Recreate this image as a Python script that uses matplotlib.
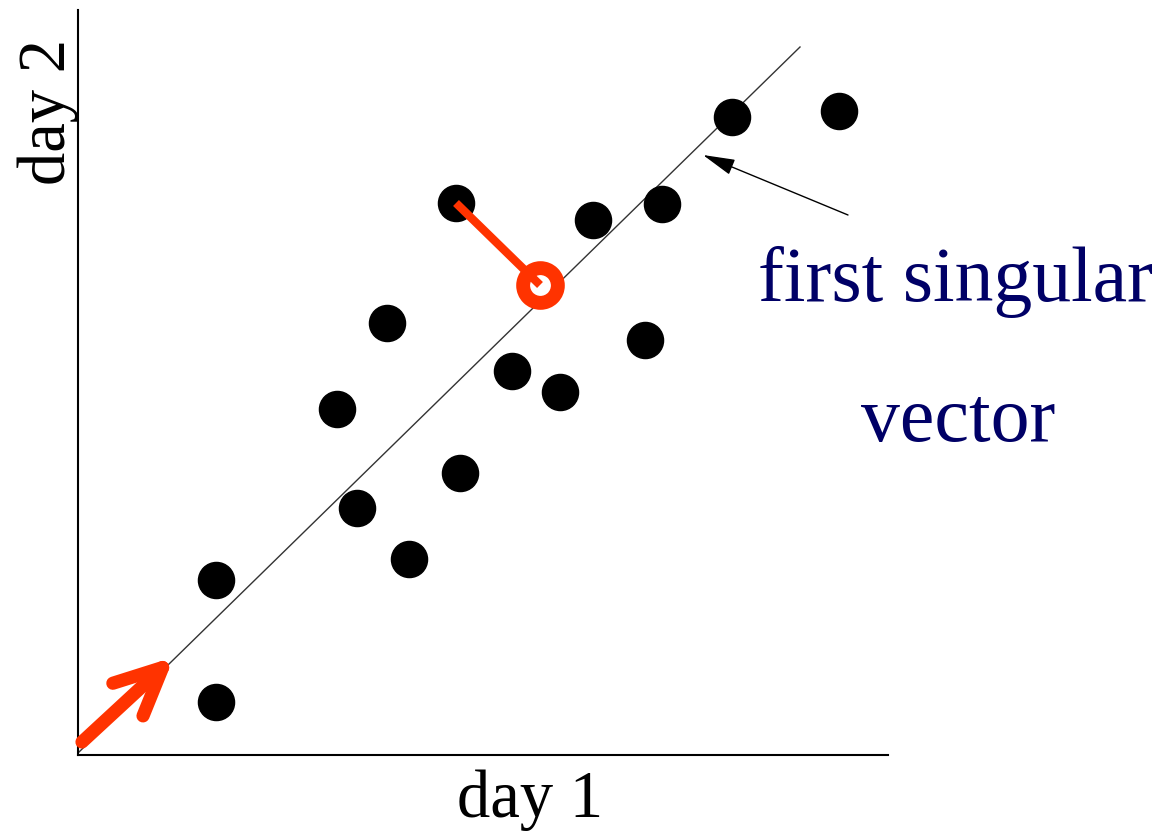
import numpy as np
import matplotlib
matplotlib.use("Agg")
import matplotlib.pyplot as plt

# data points (day 1, day 2)
day1 = [138, 138, 259, 309, 279, 331, 382, 378, 434, 482, 515, 567, 584, 654, 761]
day2 = [175, 53, 346, 432, 247, 196, 282, 552, 384, 363, 535, 415, 551, 638, 644]

# first singular vector line
vec_x = [0, 722]
vec_y = [2, 708]

# projection of one point onto the line
proj_from = (378, 552)
proj_to = (462, 470)

red = "#ff3300"
navy = "#000066"

fig = plt.figure(figsize=(11.68, 8.35), dpi=100)
ax = fig.add_axes([78/1168, 80/835, 810/1168, 745/835])
ax.set_xlim(0, 810)
ax.set_ylim(0, 745)

ax.plot(vec_x, vec_y, color="#333333", linewidth=1.0, zorder=1)
ax.plot(day1, day2, "o", color="black", markersize=26, zorder=2)

ax.plot(proj_to[0], proj_to[1], "o", markerfacecolor="white", markeredgecolor=red,
        markersize=25, markeredgewidth=10, zorder=3)
ax.plot([proj_from[0], proj_to[0]], [proj_from[1], proj_to[1]], color=red, linewidth=6,
        solid_capstyle="butt", zorder=4)

# red arrow along the vector
ax.annotate("", xy=(96, 98), xytext=(4, 13),
            arrowprops=dict(arrowstyle="->,head_length=3.4,head_width=1.6", color=red,
                            linewidth=9.5, capstyle="round", joinstyle="round",
                            shrinkA=0, shrinkB=0), zorder=5)

# label arrow
ax.annotate("", xy=(625, 600), xytext=(770, 540),
            arrowprops=dict(arrowstyle="-|>,head_length=2.0,head_width=0.5", color="black",
                            linewidth=1.0, shrinkA=0, shrinkB=0))

fig.text(955/1168, 1 - 282/835, "first singular", color=navy, fontsize=56,
         family="Liberation Serif", ha="center", va="center")
fig.text(958/1168, 1 - 422/835, "vector", color=navy, fontsize=56,
         family="Liberation Serif", ha="center", va="center")

fig.text(530/1168, 1 - 800/835, "day 1", fontsize=48, family="Liberation Serif",
         ha="center", va="center")
fig.text(48/1168, 1 - 112/835, "day 2", fontsize=48, family="Liberation Serif",
         ha="center", va="center", rotation=90)

ax.set_xticks([])
ax.set_yticks([])
for s in ["top", "right"]:
    ax.spines[s].set_visible(False)
for s in ["left", "bottom"]:
    ax.spines[s].set_linewidth(1.5)

fig.savefig("out.png", dpi=100)
